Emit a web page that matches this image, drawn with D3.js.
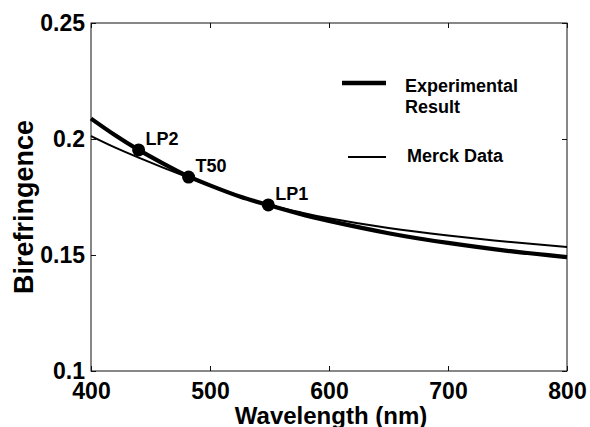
<!DOCTYPE html>
<html>
<head>
<meta charset="utf-8">
<script src="https://cdn.jsdelivr.net/npm/d3@7"></script>
<style>
  html, body { margin: 0; padding: 0; background: #fff; }
  svg { display: block; }
  text { font-family: "Liberation Sans", Arial, Helvetica, sans-serif; font-weight: bold; fill: #000; }
</style>
</head>
<body>
<svg id="chart" width="590" height="427"></svg>
<script>
// ---- data ----
const wavelengths = [400, 420, 440, 460, 480, 500, 525, 550, 575, 600, 650, 700, 750, 800];
const experimental = [0.2088, 0.2017, 0.1953, 0.1896, 0.1843, 0.1800, 0.1752, 0.1714, 0.1678, 0.1647, 0.1594, 0.1552, 0.1518, 0.1491];
const merck = [0.2013, 0.1964, 0.1920, 0.1878, 0.1838, 0.1799, 0.1752, 0.1715, 0.1685, 0.1658, 0.1616, 0.1584, 0.1557, 0.1534];
const pointNames = ["LP2", "T50", "LP1"];
const pointWavelengths = [440, 482, 549];
const pointValues = [0.1953, 0.1836, 0.1716];
const xTicks = [400, 500, 600, 700, 800];
const yTicks = [0.1, 0.15, 0.2, 0.25];
const yTickLabels = ["0.1", "0.15", "0.2", "0.25"];
const seriesNames = ["Experimental Result", "Merck Data"];

// ---- layout ----
const svg = d3.select("#chart");
const L = 91, R = 567, T = 23, B = 371;
const x = d3.scaleLinear().domain([400, 800]).range([L, R]);
const y = d3.scaleLinear().domain([0.1, 0.25]).range([B, T]);

// frame
svg.append("rect").attr("x", L).attr("y", T).attr("width", R - L).attr("height", B - T)
  .attr("fill", "none").attr("stroke", "#111").attr("stroke-width", 1);

// axes
const fmtY = d => yTickLabels[yTicks.indexOf(d)];
const gB = svg.append("g").attr("transform", `translate(0,${B})`)
  .call(d3.axisBottom(x).tickValues(xTicks).tickSize(-5).tickSizeOuter(0).tickPadding(12).tickFormat(d => String(d)));
const gL = svg.append("g").attr("transform", `translate(${L},0)`)
  .call(d3.axisLeft(y).tickValues(yTicks).tickSize(-5).tickSizeOuter(0).tickPadding(6).tickFormat(fmtY));
const gT = svg.append("g").attr("transform", `translate(0,${T})`)
  .call(d3.axisTop(x).tickValues(xTicks).tickSize(-5).tickSizeOuter(0).tickFormat(""));
const gR = svg.append("g").attr("transform", `translate(${R},0)`)
  .call(d3.axisRight(y).tickValues(yTicks).tickSize(-5).tickSizeOuter(0).tickFormat(""));
[gB, gL, gT, gR].forEach(g => {
  g.select(".domain").remove();
  g.selectAll(".tick line").attr("stroke", "#111").attr("stroke-width", 1);
  g.selectAll(".tick text").style("font-size", "23px").style("font-family", "'Liberation Sans', Arial, sans-serif").style("font-weight", "bold").attr("fill", "#000");
});

// axis titles
svg.append("text").attr("x", (L + R) / 2 + 2).attr("y", 424).attr("text-anchor", "middle")
  .style("font-size", "24px").text("Wavelength (nm)");
svg.append("text").attr("transform", `translate(33,${(T + B) / 2 + 10}) rotate(-90)`)
  .attr("text-anchor", "middle").style("font-size", "27px").text("Birefringence");

// lines
const line = d3.line().x(d => x(d[0])).y(d => y(d[1])).curve(d3.curveNatural);
svg.append("path").datum(wavelengths.map((w, i) => [w, merck[i]]))
  .attr("d", line).attr("fill", "none").attr("stroke", "#000").attr("stroke-width", 2);
svg.append("path").datum(wavelengths.map((w, i) => [w, experimental[i]]))
  .attr("d", line).attr("fill", "none").attr("stroke", "#000").attr("stroke-width", 4.2);

// points
pointNames.forEach((n, i) => {
  const cx = x(pointWavelengths[i]), cy = y(pointValues[i]);
  svg.append("circle").attr("cx", cx).attr("cy", cy).attr("r", 6.5).attr("fill", "#000");
  svg.append("text").attr("x", cx + 7).attr("y", cy - 5).style("font-size", "18px").text(n);
});

// legend
svg.append("line").attr("x1", 342).attr("x2", 386).attr("y1", 83).attr("y2", 83)
  .attr("stroke", "#000").attr("stroke-width", 4.5);
svg.append("text").attr("x", 405).attr("y", 92).style("font-size", "18px").text("Experimental");
svg.append("text").attr("x", 405).attr("y", 113).style("font-size", "18px").text("Result");
svg.append("line").attr("x1", 348).attr("x2", 386).attr("y1", 157).attr("y2", 157)
  .attr("stroke", "#000").attr("stroke-width", 2);
svg.append("text").attr("x", 407).attr("y", 162).style("font-size", "18px").text("Merck Data");
</script>
</body>
</html>
